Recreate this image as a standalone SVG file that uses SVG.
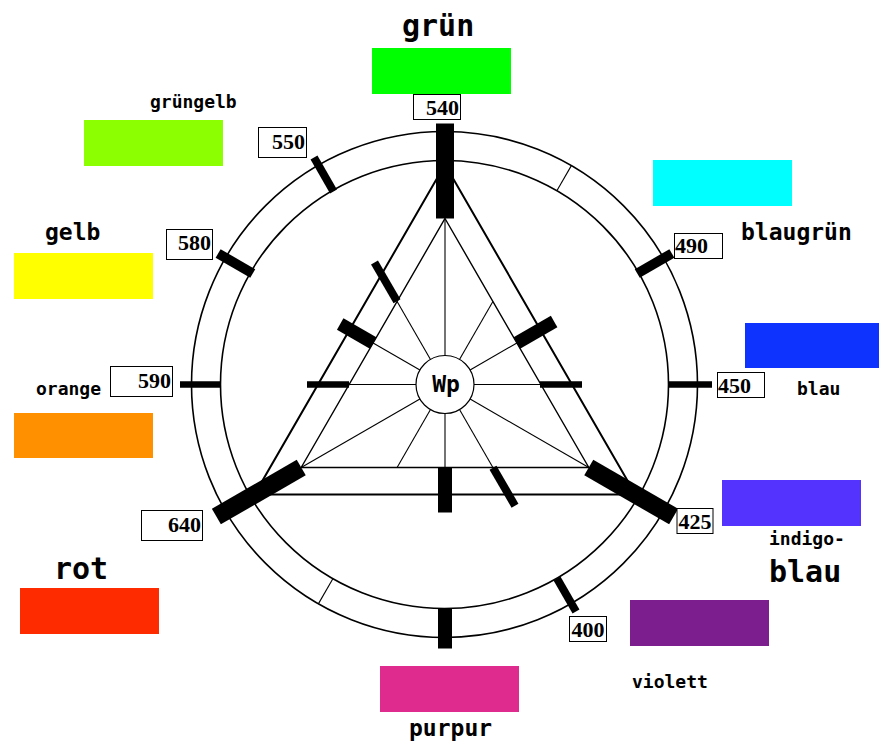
<svg xmlns="http://www.w3.org/2000/svg" width="879" height="742" viewBox="0 0 879 742">
<style>
.ln{fill:none;stroke:#000}
.bar{fill:#000}
.box{fill:#fff;stroke:#000;stroke-width:1}
.num{font-family:"Liberation Serif","Times New Roman",serif;font-weight:bold;font-size:22px;fill:#000}
.lbl{font-family:"DejaVu Sans Mono","Liberation Mono",monospace;font-weight:bold;fill:#000}
.s{font-size:18px}
.m{font-size:23px}
.l{font-size:30px}
</style>
<rect width="879" height="742" fill="#fff"/>
<g id="wheel">
<circle class="ln" cx="444.5" cy="384.5" r="253" stroke-width="1.6"/>
<circle class="ln" cx="444.5" cy="384.5" r="224" stroke-width="1.6"/>
<polygon class="ln" points="445,164.5 635.5,494.5 254.5,494.5" stroke-width="2"/>
<polygon class="ln" points="445,218.5 588.8,467.5 301.2,467.5" stroke-width="1.4"/>
<circle class="ln" cx="445" cy="384.5" r="29" stroke-width="1.2"/>
<text class="lbl" x="446" y="392" font-size="23" text-anchor="middle">Wp</text>
</g>
<g id="connectors" class="ln" stroke-width="1.1">
<line x1="445" y1="355.5" x2="445" y2="218.5"/>
<line x1="459.5" y1="359.4" x2="492.9" y2="301.5"/>
<line x1="470.1" y1="370" x2="516.9" y2="343"/>
<line x1="474" y1="384.5" x2="540.8" y2="384.5"/>
<line x1="470.1" y1="399" x2="588.8" y2="467.5"/>
<line x1="459.5" y1="409.6" x2="492.9" y2="467.5"/>
<line x1="445" y1="413.5" x2="445" y2="467.5"/>
<line x1="430.5" y1="409.6" x2="397.1" y2="467.5"/>
<line x1="419.9" y1="399" x2="301.2" y2="467.5"/>
<line x1="416" y1="384.5" x2="349.2" y2="384.5"/>
<line x1="419.9" y1="370" x2="373.1" y2="343"/>
<line x1="430.5" y1="359.4" x2="397.1" y2="301.5"/>
<line x1="557" y1="190.5" x2="571.5" y2="165.4"/>
<line x1="333" y1="578.5" x2="318.5" y2="603.6"/>
</g>
<g id="bars" class="bar">
<rect x="611" y="375.5" width="95" height="18" transform="rotate(-90 445 384.5)"/>
<rect x="667" y="379.5" width="40" height="10" transform="rotate(-30 445 384.5)"/>
<rect x="668" y="381.25" width="44" height="6.5"/>
<rect x="611" y="375.5" width="98" height="18" transform="rotate(30 445 384.5)"/>
<rect x="669" y="380.5" width="38" height="8" transform="rotate(60 445 384.5)"/>
<rect x="669" y="377.5" width="40" height="14" transform="rotate(90 445 384.5)"/>
<rect x="611" y="375.5" width="98" height="18" transform="rotate(150 445 384.5)"/>
<rect x="669" y="381.25" width="41" height="6.5" transform="rotate(180 445 384.5)"/>
<rect x="667" y="379.5" width="40" height="10" transform="rotate(-150 445 384.5)"/>
<rect x="668" y="380.5" width="39" height="8" transform="rotate(-120 445 384.5)"/>
<rect x="541" y="380.5" width="45" height="8" transform="rotate(-120 445 384.5)"/>
<rect x="528" y="378" width="38" height="13" transform="rotate(-150 445 384.5)"/>
<rect x="541" y="381.25" width="42" height="6.5" transform="rotate(180 445 384.5)"/>
<rect x="540" y="381.25" width="42" height="6.5"/>
<rect x="528" y="378" width="43" height="13" transform="rotate(-30 445 384.5)"/>
<rect x="528" y="377.5" width="45" height="14" transform="rotate(90 445 384.5)"/>
<rect x="541" y="380.5" width="44" height="8" transform="rotate(60 445 384.5)"/>
</g>
<g id="n540">
<rect x="372" y="48" width="139" height="46" fill="#00ff00"/>
<text class="lbl l" x="402" y="36">grün</text>
<rect class="box" x="413.5" y="94.5" width="47" height="25"/>
<text class="num" x="459" y="115" text-anchor="end">540</text>
</g>
<g id="n550">
<rect x="84" y="120" width="139" height="46" fill="#8cff00"/>
<text class="lbl s" x="150" y="108">grüngelb</text>
<rect class="box" x="258.5" y="127.5" width="48" height="30"/>
<text class="num" x="305" y="149" text-anchor="end">550</text>
</g>
<g id="n580">
<rect x="14" y="253" width="139" height="46" fill="#ffff00"/>
<text class="lbl m" x="45" y="240">gelb</text>
<rect class="box" x="166.5" y="229.5" width="46" height="30"/>
<text class="num" x="211" y="250" text-anchor="end">580</text>
</g>
<g id="n590">
<rect x="14" y="413" width="139" height="45" fill="#ff9100"/>
<text class="lbl s" x="36" y="395">orange</text>
<rect class="box" x="110.5" y="366.5" width="62" height="30"/>
<text class="num" x="171" y="388" text-anchor="end">590</text>
</g>
<g id="n640">
<rect x="20" y="588" width="139" height="46" fill="#ff2b00"/>
<text class="lbl l" x="54" y="579">rot</text>
<rect class="box" x="141.5" y="510.5" width="61" height="30"/>
<text class="num" x="201" y="532" text-anchor="end">640</text>
</g>
<g id="n490">
<rect x="653" y="160" width="139" height="46" fill="#00ffff"/>
<text class="lbl m" x="741" y="240">blaugrün</text>
<rect class="box" x="674.5" y="233.5" width="48" height="25"/>
<text class="num" x="675" y="253">490</text>
</g>
<g id="n450">
<rect x="745" y="323" width="134" height="45" fill="#0f33ff"/>
<text class="lbl s" x="797" y="395">blau</text>
<rect class="box" x="717.5" y="372.5" width="47" height="25"/>
<text class="num" x="718" y="393">450</text>
</g>
<g id="n425">
<rect x="722" y="480" width="139" height="46" fill="#5533ff"/>
<text class="lbl s" x="769" y="545">indigo-</text>
<text class="lbl l" x="769" y="582">blau</text>
<rect class="box" x="677" y="508.5" width="36" height="25"/>
<text class="num" x="695" y="529" text-anchor="middle">425</text>
</g>
<g id="n400">
<rect x="630" y="600" width="139" height="46" fill="#7d1e8e"/>
<text class="lbl s" x="632" y="688">violett</text>
<rect class="box" x="569.5" y="616.5" width="37" height="25"/>
<text class="num" x="588" y="637" text-anchor="middle">400</text>
</g>
<g id="npurpur">
<rect x="380" y="666" width="139" height="46" fill="#e02b8e"/>
<text class="lbl m" x="409" y="736">purpur</text>
</g>
</svg>
